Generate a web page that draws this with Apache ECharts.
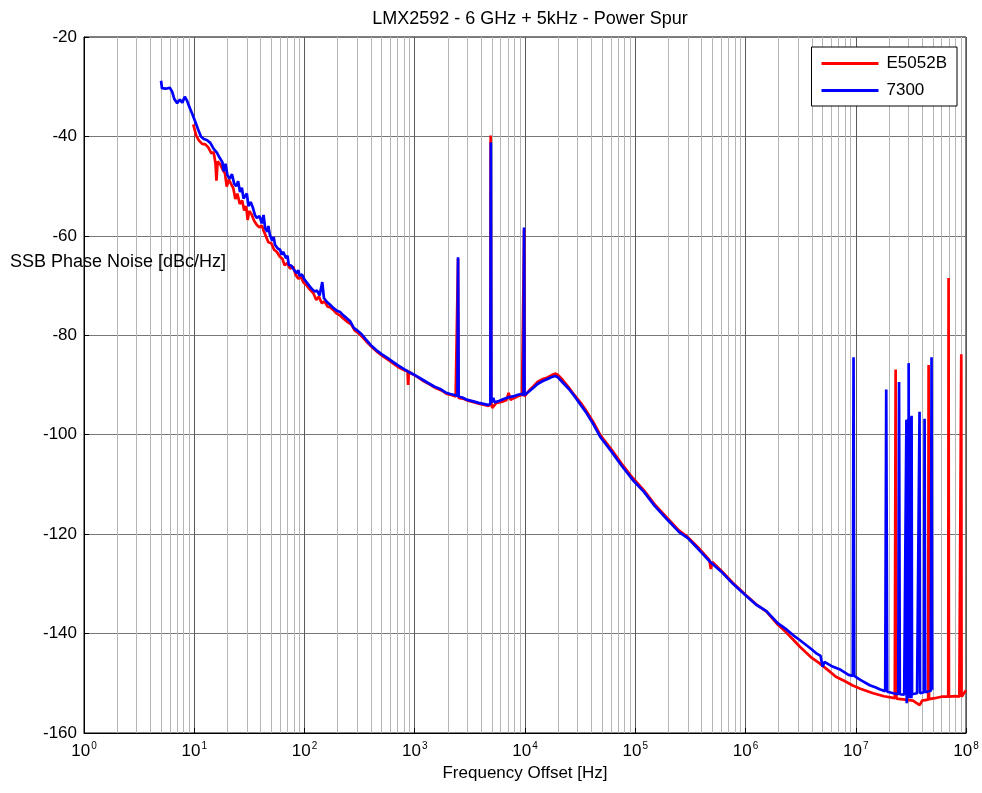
<!DOCTYPE html>
<html>
<head>
<meta charset="utf-8">
<script src="https://cdn.jsdelivr.net/npm/echarts@6/dist/echarts.min.js"></script>
<style>
  html, body { margin: 0; padding: 0; background: #fff; }
  #chart { width: 982px; height: 793px; }
</style>
</head>
<body>
<div id="chart"></div>
<script>
const FONT = '"Liberation Sans", Arial, Helvetica, sans-serif';

const TITLE = 'LMX2592 - 6 GHz + 5kHz - Power Spur';
const X_NAME = 'Frequency Offset [Hz]';
const Y_NAME = 'SSB Phase Noise [dBc/Hz]';
const SERIES_NAMES = ['E5052B', '7300'];

const Y_MIN = -160;
const Y_MAX = -20;
const Y_STEP = 20;
const X_MIN = 1;
const X_MAX = 1e8;

// minor grid: 2..9 within every decade
const DECADES = [1, 10, 100, 1e3, 1e4, 1e5, 1e6, 1e7];
const MINOR_MULT = [2, 3, 4, 5, 6, 7, 8, 9];

// E5052B, [Hz, dBc/Hz]
const RED = [
    [9.8, -37.6], [10.4, -39.8], [11.0, -40.8], [11.8, -41.5], [12.6, -41.6], [13.4, -42.2],
    [14.3, -43.4], [15.0, -43.2], [15.6, -45.5], [15.9, -48.9], [16.3, -45.0], [17.2, -45.6],
    [18.2, -46.8], [19.0, -47.4], [19.7, -50.1], [20.6, -48.7], [21.6, -49.6], [22.6, -50.4],
    [23.6, -52.6], [24.6, -51.5], [25.9, -53.6], [27.2, -52.9], [28.4, -54.9], [29.6, -54.0],
    [30.5, -56.8], [31.5, -55.0], [33.0, -55.6], [35.0, -57.0], [37.0, -57.8], [39.0, -58.3],
    [41.0, -57.9], [42.5, -58.9], [44.5, -60.0], [47.0, -61.3], [50.0, -61.5], [53.0, -62.8],
    [56.0, -63.2], [59.8, -64.2], [63.0, -64.6], [66.0, -65.9], [70.0, -65.5], [74.0, -66.6],
    [79.0, -66.2], [83.0, -67.8], [88.0, -68.6], [93.0, -68.3], [98.0, -69.4], [105, -70.0],
    [112, -70.8], [120, -71.5], [128, -72.9], [135, -72.2], [143, -73.5], [152, -73.2],
    [162, -74.2], [172, -74.4], [182, -74.9], [195, -75.6], [210, -76.0], [225, -76.6],
    [245, -77.3], [265, -77.8], [285, -79.0], [310, -79.6], [340, -80.5], [370, -81.4],
    [410, -82.4], [460, -83.4], [520, -84.3], [580, -85.0], [650, -85.8], [720, -86.5],
    [800, -87.0], [860, -87.2], [871, -90.0], [885, -87.3], [950, -87.8], [1050, -88.3],
    [1200, -89.2], [1350, -89.8], [1550, -90.6], [1750, -91.1], [1950, -91.8], [2150, -92.0],
    [2350, -92.3], [2440, -92.4], [2470, -64.6], [2500, -92.6], [2800, -92.8], [3100, -93.2],
    [3500, -93.5], [3900, -93.8], [4300, -94.0], [4650, -94.2], [4850, -94.0], [4880, -39.8],
    [4930, -93.6], [5050, -94.6], [5500, -93.6], [6100, -93.4], [6800, -93.0], [7100, -91.6],
    [7400, -93.0], [8000, -92.6], [8700, -92.2], [9400, -92.0], [9750, -92.2], [9820, -58.7],
    [9900, -92.3], [10300, -91.8], [11000, -91.0], [12000, -90.2], [13000, -89.4], [14500, -88.8],
    [16000, -88.5], [17500, -88.0], [19000, -87.7], [20000, -88.0], [22000, -89.0], [25000, -90.5],
    [28000, -92.0], [32000, -93.6], [36000, -95.2], [42000, -97.6], [48000, -100.0], [60000, -102.8],
    [75000, -105.8], [95000, -108.7], [120000, -111.2], [150000, -114.0], [192000, -116.6],
    [250000, -119.3], [300000, -120.6], [384000, -123.0], [470000, -125.2], [485000, -127.0],
    [500000, -125.6], [600000, -127.3], [770000, -129.8], [1e6, -132.2], [1.25e6, -134.1],
    [1.55e6, -135.6], [1.96e6, -138.2], [2.3e6, -139.6], [2.7e6, -141.2], [3.1e6, -142.6],
    [3.5e6, -143.7], [4.0e6, -144.9], [4.7e6, -146.0], [5.5e6, -147.2], [6.6e6, -148.7],
    [8.0e6, -149.6], [9.3e6, -150.4], [11e6, -151.1], [14.4e6, -152.0], [18e6, -152.6],
    [22.6e6, -153.0], [23.0e6, -86.9], [23.4e6, -153.1], [28e6, -153.3], [33e6, -153.5],
    [38e6, -154.4], [40e6, -153.5], [45.4e6, -153.3], [45.8e6, -86.0], [46.2e6, -153.2],
    [52e6, -153.0], [60e6, -152.7], [69e6, -152.7], [69.5e6, -68.5], [70e6, -152.7],
    [80e6, -152.6], [87e6, -152.7], [90e6, -152.6], [90.6e6, -83.8], [91.2e6, -152.7],
    [95e6, -152.5], [100e6, -151.4]
];

// 7300, [Hz, dBc/Hz]
const BLUE = [
    [5.0, -28.8], [5.1, -30.3], [5.5, -30.4], [5.7, -30.0], [6.0, -30.2], [6.3, -31.0],
    [6.6, -32.5], [7.0, -33.3], [7.4, -32.6], [7.8, -33.2], [8.2, -32.0], [8.6, -32.8],
    [9.0, -34.0], [9.6, -35.5], [10.2, -37.0], [10.8, -38.5], [11.5, -40.0], [12.2, -40.5],
    [13.0, -40.7], [14.0, -41.3], [15.0, -42.5], [16.0, -43.2], [17.0, -44.3], [18.0, -45.2],
    [18.5, -47.0], [19.2, -45.5], [20.0, -47.8], [21.0, -48.5], [22.0, -47.6], [23.0, -49.5],
    [24.0, -50.0], [25.0, -49.0], [26.0, -51.2], [27.0, -50.3], [28.0, -52.5], [29.0, -52.0],
    [30.0, -51.5], [31.0, -54.0], [32.5, -53.2], [34.0, -54.3], [35.5, -55.8], [37.0, -56.4],
    [39.0, -56.0], [41.0, -57.5], [42.5, -55.8], [44.0, -58.5], [46.0, -59.2], [47.0, -58.0],
    [48.5, -59.8], [51.0, -61.0], [52.5, -60.2], [54.0, -61.8], [57.0, -62.5], [60.0, -62.8],
    [62.0, -63.8], [64.0, -63.2], [68.0, -64.5], [70.0, -64.0], [72.0, -65.8], [76.0, -66.0],
    [80.0, -66.8], [85.0, -67.5], [88.0, -66.9], [90.0, -68.0], [95.0, -67.8], [100, -68.8],
    [106, -69.5], [112, -70.2], [118, -70.8], [124, -71.2], [130, -71.0], [137, -72.0],
    [145, -69.3], [150, -72.5], [160, -73.3], [170, -73.8], [182, -74.5], [195, -75.0],
    [210, -75.3], [225, -76.0], [240, -76.5], [260, -77.2], [280, -78.5], [300, -79.0],
    [330, -79.8], [360, -80.8], [400, -82.0], [450, -83.0], [500, -83.8], [560, -84.5],
    [630, -85.3], [700, -86.0], [800, -86.8], [900, -87.5], [1000, -88.0], [1150, -88.8],
    [1300, -89.5], [1500, -90.3], [1700, -90.8], [1900, -91.5], [2100, -91.8], [2300, -92.0],
    [2440, -92.2], [2470, -64.3], [2500, -92.3], [2700, -92.5], [3000, -93.0], [3400, -93.3],
    [3800, -93.6], [4200, -93.8], [4600, -94.0], [4850, -93.8], [4900, -41.2], [4950, -93.5],
    [5150, -92.6], [5300, -93.5], [5800, -93.2], [6400, -92.8], [7000, -92.5], [7800, -92.3],
    [8500, -92.0], [9200, -91.8], [9700, -92.0], [9800, -58.3], [9900, -92.0], [10300, -91.7],
    [11000, -91.2], [12000, -90.5], [13000, -89.8], [14500, -89.2], [16000, -88.8],
    [17500, -88.4], [19000, -88.2], [20000, -88.5], [22000, -89.5], [25000, -90.8], [28000, -92.2],
    [32000, -94.0], [36000, -95.6], [42000, -98.0], [48000, -100.4], [60000, -103.2],
    [75000, -106.2], [95000, -109.1], [120000, -111.5], [150000, -114.3], [192000, -116.9],
    [250000, -119.6], [300000, -120.8], [384000, -123.3], [480000, -125.6], [600000, -127.5],
    [770000, -130.0], [1e6, -132.3], [1.25e6, -134.2], [1.55e6, -135.5], [1.96e6, -137.9],
    [2.3e6, -139.0], [2.7e6, -140.3], [3.1e6, -141.3], [3.5e6, -142.2], [4.0e6, -143.2],
    [4.4e6, -144.0], [4.8e6, -144.5], [5.0e6, -146.7], [5.2e6, -145.7], [6.0e6, -146.5],
    [7.3e6, -147.3], [8.6e6, -148.3], [9.4e6, -148.5], [9.55e6, -84.4], [9.7e6, -148.5],
    [11e6, -149.3], [13.4e6, -150.4], [15e6, -150.8], [16.5e6, -151.2], [18.5e6, -151.6],
    [18.9e6, -90.9], [19.3e6, -151.7], [22e6, -152.0], [24.3e6, -152.2], [24.7e6, -89.4],
    [25.1e6, -152.2], [27.5e6, -152.3], [28.6e6, -152.5], [28.8e6, -97.0], [29.0e6, -154.0],
    [29.3e6, -97.5], [29.6e6, -153.0], [29.9e6, -96.8], [30.1e6, -153.0], [30.2e6, -85.6],
    [30.4e6, -153.0], [30.8e6, -97.0], [31.2e6, -153.0], [31.6e6, -96.5], [32.0e6, -153.0],
    [32.1e6, -96.2], [32.4e6, -152.2], [36e6, -152.0], [37.5e6, -152.0], [37.9e6, -95.4],
    [38.3e6, -152.0], [41.5e6, -151.8], [42.1e6, -96.8], [42.7e6, -151.8], [48e6, -151.5],
    [48.7e6, -84.4], [49.3e6, -151.3], [50e6, -151.3]
];

const minorLines = [];
DECADES.forEach(d => MINOR_MULT.forEach(m => minorLines.push({ xAxis: d * m })));

const chart = echarts.init(document.getElementById('chart'), null, { renderer: 'canvas' });

chart.setOption({
    animation: false,
    backgroundColor: '#fff',
    textStyle: { fontFamily: FONT },
    title: {
        text: TITLE,
        left: 525,
        textAlign: 'center',
        top: 5,
        textStyle: { fontSize: 18, fontWeight: 'normal', color: '#000', fontFamily: FONT },
    },
    grid: { left: 84, right: 16, top: 37, bottom: 60, show: true, borderColor: '#000', borderWidth: 1, backgroundColor: 'transparent' },
    legend: {
        data: SERIES_NAMES,
        orient: 'vertical',
        right: 25,
        top: 47,
        padding: [8, 10, 7, 10],
        itemGap: 10,
        itemWidth: 57,
        itemHeight: 3,
        icon: 'rect',
        backgroundColor: '#fff',
        borderColor: '#000',
        borderWidth: 1,
        borderRadius: 0,
        textStyle: { fontSize: 17, color: '#000', fontFamily: FONT, padding: [0, 0, 0, 3] },
    },
    xAxis: {
        type: 'log',
        logBase: 10,
        min: X_MIN,
        max: X_MAX,
        name: X_NAME,
        nameLocation: 'middle',
        nameGap: 30,
        nameTextStyle: { fontSize: 17, color: '#000', fontFamily: FONT },
        axisLine: { show: true, lineStyle: { color: '#000', width: 1 } },
        axisTick: { show: true, inside: true, length: 5, lineStyle: { color: '#000' } },
        axisLabel: {
            margin: 8,
            color: '#000',
            formatter: v => '{b|10}{s|' + Math.round(Math.log10(v)) + '}',
            rich: {
                b: { fontSize: 17, color: '#000', fontFamily: FONT },
                s: { fontSize: 10, color: '#000', fontFamily: FONT, padding: [0, 0, 10, 1] },
            },
        },
        splitLine: { show: true, lineStyle: { color: '#5a5a5a', width: 1 } },
    },
    yAxis: {
        type: 'value',
        min: Y_MIN,
        max: Y_MAX,
        interval: Y_STEP,
        axisLine: { show: true, lineStyle: { color: '#000', width: 1 } },
        axisTick: { show: true, inside: true, length: 5, lineStyle: { color: '#000' } },
        axisLabel: { fontSize: 17, color: '#000', margin: 7, fontFamily: FONT },
        splitLine: { show: true, lineStyle: { color: '#777', width: 1 } },
    },
    graphic: [{
        type: 'text',
        left: 10,
        top: 253,
        z: 10,
        style: { text: Y_NAME, fontSize: 18, fill: '#000', fontFamily: FONT },
    }],
    series: [
        {
            name: SERIES_NAMES[0],
            type: 'line',
            data: RED,
            showSymbol: false,
            symbol: 'none',
            lineStyle: { color: '#ff0000', width: 2.7 },
            itemStyle: { color: '#ff0000' },
            z: 3,
            markLine: {
                z: 1,
                silent: true,
                symbol: 'none',
                label: { show: false },
                lineStyle: { color: '#b5b5b5', width: 1, type: 'solid' },
                emphasis: { disabled: true },
                data: minorLines,
            },
        },
        {
            name: SERIES_NAMES[1],
            type: 'line',
            data: BLUE,
            showSymbol: false,
            symbol: 'none',
            lineStyle: { color: '#0000ff', width: 2.7 },
            itemStyle: { color: '#0000ff' },
            z: 4,
        },
    ],
});
</script>
</body>
</html>
